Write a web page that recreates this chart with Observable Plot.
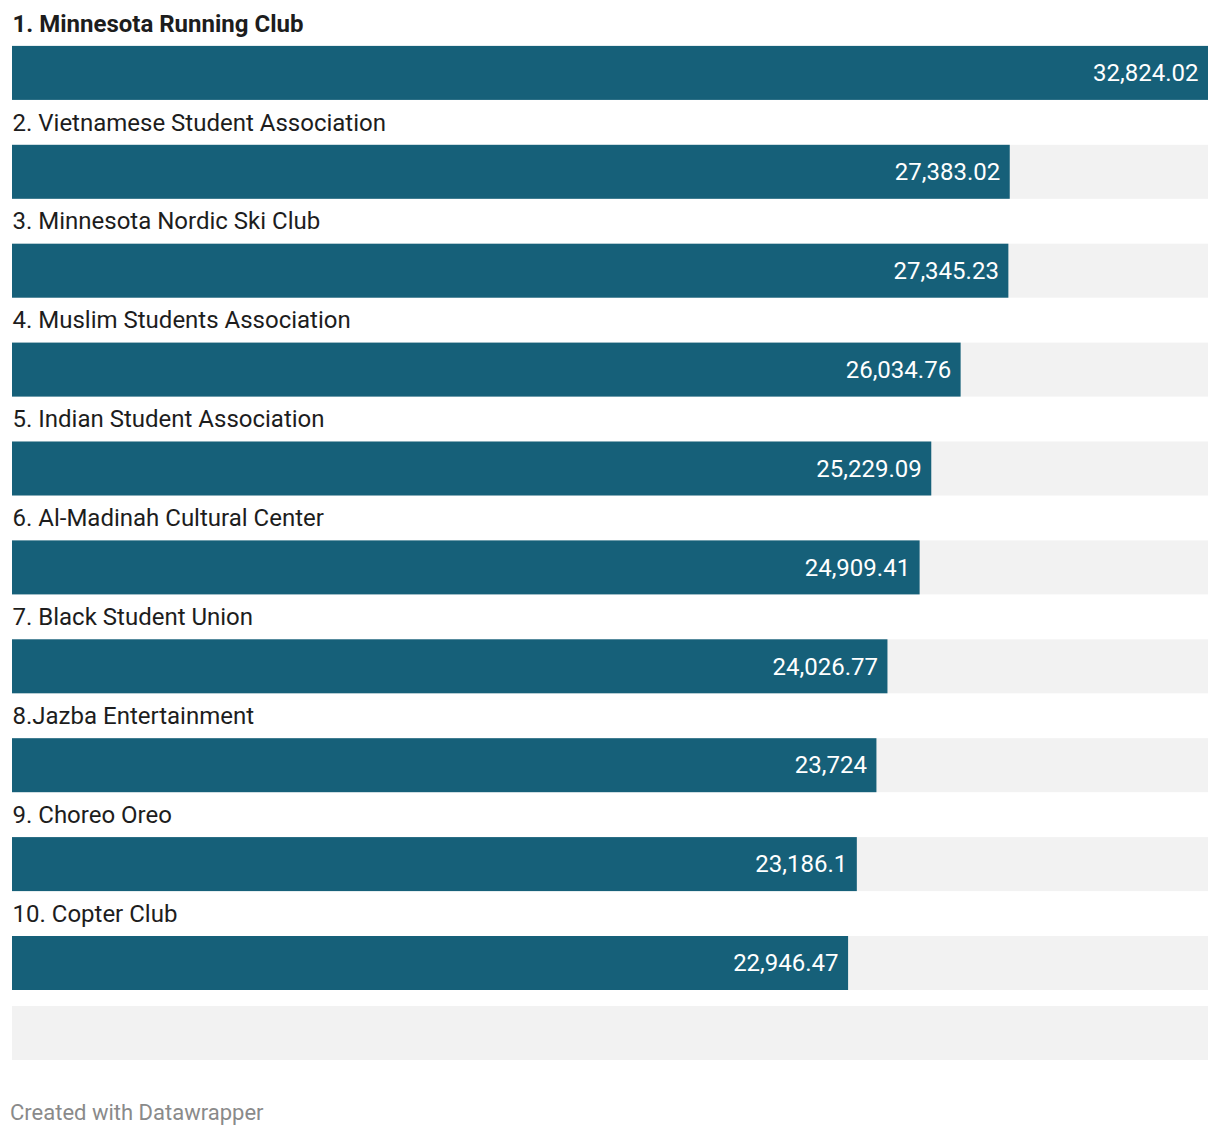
<!DOCTYPE html>
<html>
<head>
<meta charset="utf-8">
<script src="https://cdn.jsdelivr.net/npm/d3@7"></script>
<script src="https://cdn.jsdelivr.net/npm/@observablehq/plot@0.6"></script>
<style>
  html, body { margin: 0; padding: 0; background: #fff; }
  body { width: 1220px; font-family: Roboto, "Noto Sans", sans-serif; }
  #chart svg { display: block; }
  #footer { font-family: Roboto, sans-serif; font-size: 22px; color: #8a8a8a; padding-left: 10px; margin-top: 40px; line-height: 26px; }
</style>
</head>
<body>
<div id="chart"></div>
<div id="footer">Created with Datawrapper</div>
<script>
const names = [
  "1. Minnesota Running Club",
  "2. Vietnamese Student Association",
  "3. Minnesota Nordic Ski Club",
  "4. Muslim Students Association",
  "5. Indian Student Association",
  "6. Al-Madinah Cultural Center",
  "7. Black Student Union",
  "8.Jazba Entertainment",
  "9. Choreo Oreo",
  "10. Copter Club"
];
const values = [32824.02, 27383.02, 27345.23, 26034.76, 25229.09, 24909.41, 24026.77, 23724, 23186.1, 22946.47];
const valueLabels = ["32,824.02", "27,383.02", "27,345.23", "26,034.76", "25,229.09", "24,909.41", "24,026.77", "23,724", "23,186.1", "22,946.47"];
const emptyRows = [""];

const maxV = d3.max(values);
const rows = names.map((n, i) => ({name: n, value: values[i], label: valueLabels[i], rank: i}));

const barColor = "#166079";
const bgColor = "#f2f2f2";

const main = Plot.plot({
  width: 1220,
  height: 990,
  marginLeft: 12,
  marginRight: 12,
  marginTop: 1,
  marginBottom: 0,
  x: {domain: [0, maxV], axis: null},
  y: {domain: names, axis: null, paddingInner: 0, paddingOuter: 0, round: false},
  style: {fontFamily: "Roboto, sans-serif"},
  marks: [
    Plot.barX(rows, {x1: 0, x2: maxV, y: "name", fill: bgColor, insetTop: 44.9}),
    Plot.barX(rows, {x1: 0, x2: "value", y: "name", fill: barColor, insetTop: 44.9}),
    Plot.text(rows.filter(d => d.rank === 0), {
      x: 0, y: "name", text: "name", textAnchor: "start", dy: -27,
      fontSize: 24, fill: "#1d1d1d", fontWeight: "bold"
    }),
    Plot.text(rows.filter(d => d.rank > 0), {
      x: 0, y: "name", text: "name", textAnchor: "start", dy: -27,
      fontSize: 24, fill: "#1d1d1d"
    }),
    Plot.text(rows, {
      x: "value", y: "name", text: "label", textAnchor: "end", dx: -10, dy: 22.5,
      fontSize: 24, fill: "#ffffff"
    })
  ]
});

const extra = Plot.plot({
  width: 1220,
  height: 70,
  marginLeft: 12,
  marginRight: 12,
  marginTop: 16,
  marginBottom: 0,
  x: {domain: [0, maxV], axis: null},
  y: {domain: emptyRows, axis: null, paddingInner: 0, paddingOuter: 0, round: false},
  marks: [
    Plot.barX(emptyRows, {x1: 0, x2: maxV, y: d => d, fill: bgColor})
  ]
});

document.getElementById("chart").append(main, extra);
</script>
</body>
</html>
